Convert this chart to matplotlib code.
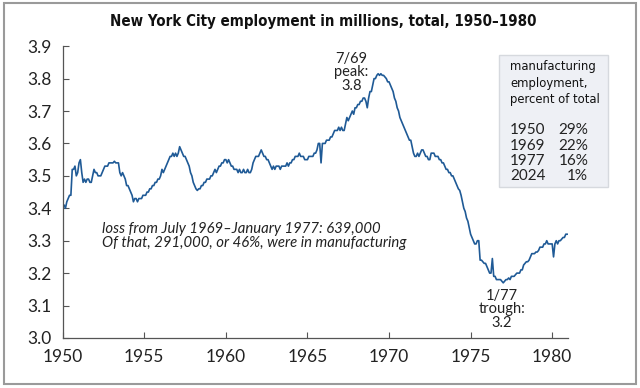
import numpy as np
import matplotlib
matplotlib.use("Agg")
import matplotlib.pyplot as plt
from matplotlib.patches import Rectangle

# monthly NYC employment, millions
emp_by_year = {
    1950: [3.41, 3.41, 3.40, 3.42, 3.43, 3.44, 3.44, 3.52, 3.52, 3.53, 3.50, 3.51],
    1951: [3.54, 3.55, 3.51, 3.48, 3.49, 3.48, 3.49, 3.49, 3.48, 3.48, 3.50, 3.52],
    1952: [3.51, 3.51, 3.50, 3.50, 3.50, 3.51, 3.52, 3.53, 3.53, 3.53, 3.54, 3.54],
    1953: [3.54, 3.54, 3.545, 3.54, 3.54, 3.54, 3.51, 3.50, 3.51, 3.50, 3.49, 3.47],
    1954: [3.47, 3.46, 3.45, 3.44, 3.42, 3.43, 3.43, 3.42, 3.43, 3.43, 3.43, 3.44],
    1955: [3.44, 3.44, 3.45, 3.45, 3.46, 3.46, 3.47, 3.47, 3.48, 3.48, 3.49, 3.49],
    1956: [3.50, 3.52, 3.51, 3.52, 3.53, 3.54, 3.55, 3.56, 3.56, 3.57, 3.56, 3.57],
    1957: [3.56, 3.57, 3.59, 3.58, 3.57, 3.56, 3.56, 3.55, 3.54, 3.53, 3.51, 3.50],
    1958: [3.48, 3.47, 3.46, 3.455, 3.46, 3.46, 3.47, 3.47, 3.48, 3.48, 3.49, 3.49],
    1959: [3.49, 3.50, 3.50, 3.51, 3.52, 3.51, 3.52, 3.53, 3.53, 3.54, 3.54, 3.55],
    1960: [3.55, 3.54, 3.55, 3.54, 3.53, 3.53, 3.52, 3.52, 3.52, 3.51, 3.52, 3.51],
    1961: [3.51, 3.52, 3.51, 3.51, 3.52, 3.51, 3.51, 3.52, 3.54, 3.55, 3.56, 3.56],
    1962: [3.56, 3.57, 3.58, 3.57, 3.56, 3.56, 3.55, 3.55, 3.54, 3.53, 3.52, 3.53],
    1963: [3.52, 3.53, 3.53, 3.53, 3.52, 3.53, 3.53, 3.53, 3.53, 3.54, 3.53, 3.54],
    1964: [3.54, 3.55, 3.55, 3.56, 3.56, 3.56, 3.57, 3.56, 3.56, 3.56, 3.55, 3.55],
    1965: [3.55, 3.56, 3.56, 3.56, 3.56, 3.57, 3.57, 3.58, 3.60, 3.60, 3.54, 3.60],
    1966: [3.60, 3.60, 3.61, 3.61, 3.61, 3.62, 3.62, 3.63, 3.64, 3.64, 3.64, 3.65],
    1967: [3.64, 3.65, 3.64, 3.64, 3.66, 3.68, 3.67, 3.68, 3.69, 3.70, 3.69, 3.71],
    1968: [3.71, 3.72, 3.72, 3.73, 3.73, 3.74, 3.74, 3.73, 3.71, 3.74, 3.76, 3.76],
    1969: [3.78, 3.80, 3.80, 3.81, 3.815, 3.81, 3.815, 3.81, 3.81, 3.805, 3.80, 3.79],
    1970: [3.79, 3.78, 3.77, 3.76, 3.74, 3.73, 3.71, 3.70, 3.68, 3.67, 3.66, 3.65],
    1971: [3.64, 3.63, 3.62, 3.61, 3.61, 3.59, 3.57, 3.56, 3.56, 3.57, 3.56, 3.57],
    1972: [3.58, 3.58, 3.57, 3.56, 3.56, 3.55, 3.55, 3.57, 3.57, 3.57, 3.56, 3.56],
    1973: [3.56, 3.55, 3.55, 3.54, 3.54, 3.53, 3.52, 3.52, 3.51, 3.51, 3.50, 3.50],
    1974: [3.49, 3.48, 3.47, 3.46, 3.455, 3.44, 3.42, 3.40, 3.39, 3.37, 3.36, 3.34],
    1975: [3.32, 3.31, 3.30, 3.29, 3.29, 3.30, 3.30, 3.24, 3.24, 3.235, 3.23, 3.23],
    1976: [3.22, 3.21, 3.20, 3.20, 3.245, 3.19, 3.19, 3.18, 3.18, 3.18, 3.18, 3.175],
    1977: [3.17, 3.175, 3.18, 3.18, 3.185, 3.18, 3.19, 3.19, 3.19, 3.195, 3.20, 3.20],
    1978: [3.20, 3.21, 3.21, 3.225, 3.23, 3.235, 3.235, 3.24, 3.25, 3.26, 3.26, 3.26],
    1979: [3.265, 3.265, 3.27, 3.28, 3.28, 3.28, 3.29, 3.29, 3.30, 3.29, 3.29, 3.29],
    1980: [3.29, 3.25, 3.29, 3.30, 3.29, 3.30, 3.30, 3.305, 3.31, 3.31, 3.32, 3.32],
}

mfg_years = ["1950", "1969", "1977", "2024"]
mfg_share = ["29%", "22%", "16%", "1%"]

x_ticks = [1950, 1955, 1960, 1965, 1970, 1975, 1980]
y_ticks = [3.0, 3.1, 3.2, 3.3, 3.4, 3.5, 3.6, 3.7, 3.8, 3.9]

dates = []
values = []
for yr, months in emp_by_year.items():
    for m, v in enumerate(months):
        dates.append(yr + m / 12)
        values.append(v)

plt.rcParams["font.family"] = ["Lato", "DejaVu Sans"]
narrow = ["DejaVu Sans", "Roboto"]

fig = plt.figure(figsize=(6.4, 3.88), dpi=100)
fig.patches.append(Rectangle((0.006, 0.010), 0.988, 0.982, transform=fig.transFigure,
                             fill=False, edgecolor="#9a9a9a", linewidth=1.5))

ax = fig.add_axes([0.098, 0.129, 0.789, 0.752])
ax.plot(dates, values, color="#1f5a96", linewidth=1.2)

ax.set_xlim(1950, 1980.95)
ax.set_ylim(3.0, 3.9)
ax.set_xticks(x_ticks)
ax.set_yticks(y_ticks)
ax.set_yticklabels([f"{t:.1f}" for t in y_ticks])
ax.tick_params(direction="in", length=4, width=0.8, color="#555555",
               labelsize=12.5, labelcolor="#222222", pad=8)
for side in ["top", "right"]:
    ax.spines[side].set_visible(False)
for side in ["left", "bottom"]:
    ax.spines[side].set_color("#555555")
    ax.spines[side].set_linewidth(0.9)

fig.text(0.505, 0.945, "New York City employment in millions, total, 1950\u20131980",
         ha="center", va="center", fontsize=10.8, fontweight="bold",
         family=narrow, fontstretch="condensed", color="#111111")

ax.text(1967.7, 3.757, "7/69\npeak:\n3.8", ha="center", va="bottom", fontsize=10.5,
        linespacing=0.95, color="#222222")
ax.text(1976.9, 3.152, "1/77\ntrough:\n3.2", ha="center", va="top", fontsize=10.5,
        linespacing=0.95, color="#222222")
ax.text(1952.4, 3.314, "loss from July 1969\u2013January 1977: 639,000\n"
        "Of that, 291,000, or 46%, were in manufacturing",
        ha="left", va="center", fontsize=10.7, style="italic", linespacing=0.95,
        color="#222222")

# side box with manufacturing share
fig.patches.append(Rectangle((0.780, 0.518), 0.170, 0.340, transform=fig.transFigure,
                             facecolor="#eef0f5", edgecolor="#d6d9de", linewidth=1))
fig.text(0.797, 0.845, "manufacturing\nemployment,\npercent of total", ha="left", va="top",
         fontsize=9.3, linespacing=1.35, family=narrow, fontstretch="condensed",
         color="#111111")
row_y = [0.665, 0.624, 0.585, 0.546]
for yy, lab, share in zip(row_y, mfg_years, mfg_share):
    fig.text(0.797, yy, lab, ha="left", va="center", fontsize=11, color="#222222")
    fig.text(0.919, yy, share, ha="right", va="center", fontsize=11, color="#222222")

fig.savefig("out.png", dpi=100)
